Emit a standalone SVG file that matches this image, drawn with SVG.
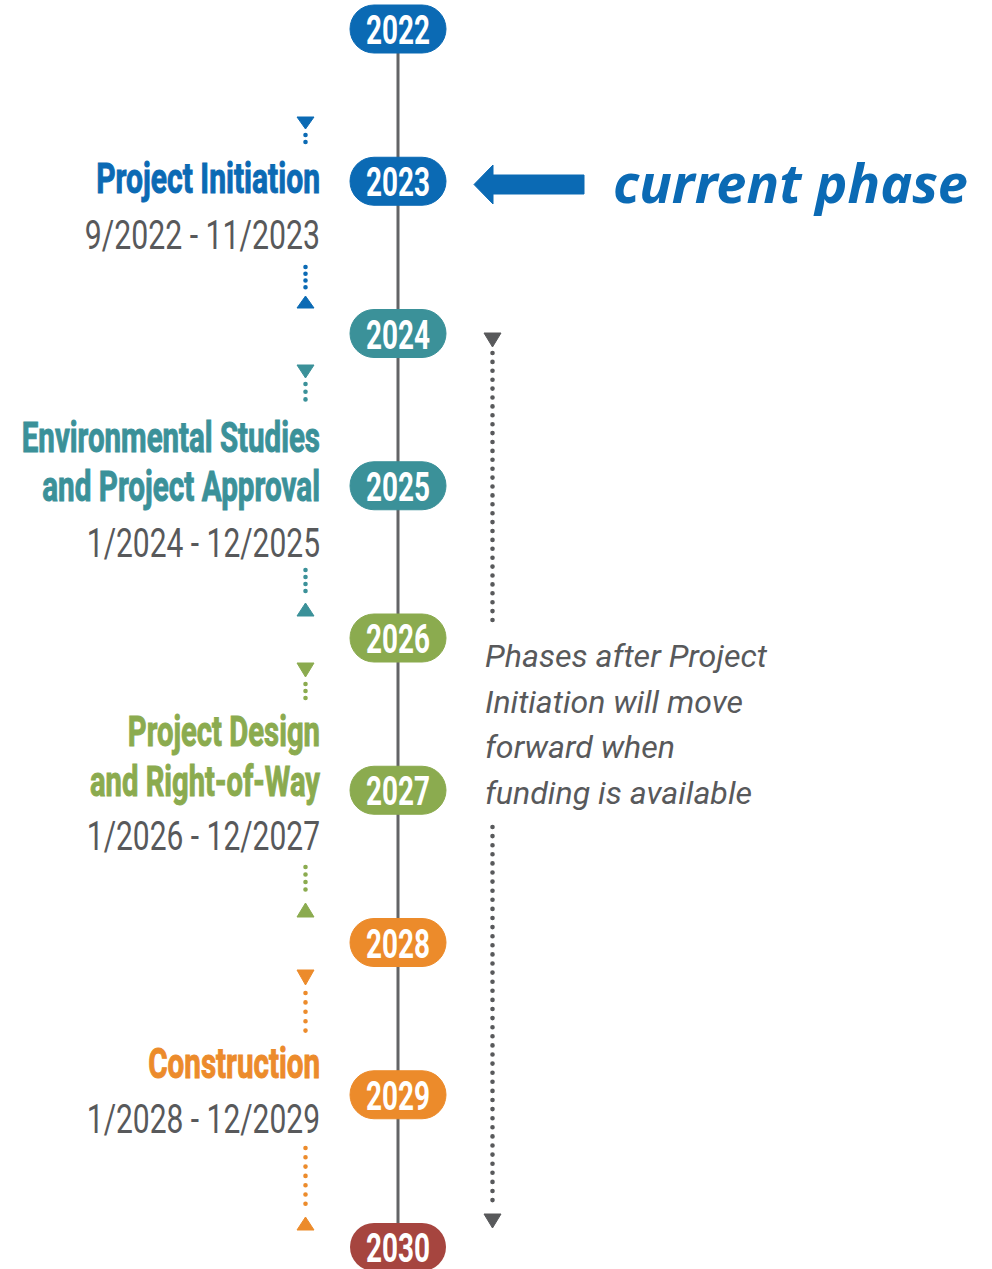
<svg xmlns="http://www.w3.org/2000/svg" width="992" height="1269" viewBox="0 0 992 1269">
<style>
.yr{font-family:Roboto,"Liberation Sans",sans-serif;font-weight:bold;font-size:40px;fill:#fff;text-anchor:middle}
.ttl{font-family:Roboto,"Liberation Sans",sans-serif;font-weight:bold;font-size:42px;text-anchor:end}
.dt{font-family:Roboto,"Liberation Sans",sans-serif;font-weight:normal;font-size:41px;fill:#58595b;text-anchor:end}
.note{font-family:Roboto,"Liberation Sans",sans-serif;font-style:italic;font-size:31px;fill:#58595b}
.dots{fill:none;stroke-width:4.6;stroke-linecap:round}
.blue{fill:#0b6ab4;stroke:#0b6ab4}
.teal{fill:#3b9199;stroke:#3b9199}
.green{fill:#8bab4f;stroke:#8bab4f}
.orange{fill:#ec8b2b;stroke:#ec8b2b}
.red{fill:#a6453f}
.gray{fill:#58595b;stroke:#58595b}
</style>
<rect width="992" height="1269" fill="#fff"/>
<g id="connectors">
<line x1="398" y1="50" x2="398" y2="1225" stroke="#636466" stroke-width="3"/>
<g id="phase-arrows">
<polygon class="blue" stroke="none" points="297,117 314,117 305.5,129"/>
<line class="dots blue" fill="none" x1="305.5" y1="135" x2="305.5" y2="149" stroke-dasharray="0 7"/>
<line class="dots blue" fill="none" x1="305.5" y1="267" x2="305.5" y2="294" stroke-dasharray="0 6.75"/>
<polygon class="blue" stroke="none" points="297,308 314,308 305.5,296"/>
<polygon class="teal" stroke="none" points="297,365 314,365 305.5,378"/>
<line class="dots teal" fill="none" x1="305.5" y1="384" x2="305.5" y2="407" stroke-dasharray="0 7.7"/>
<line class="dots teal" fill="none" x1="305.5" y1="570" x2="305.5" y2="598" stroke-dasharray="0 7"/>
<polygon class="teal" stroke="none" points="297,616 314,616 305.5,603"/>
<polygon class="green" stroke="none" points="297,663 314,663 305.5,677"/>
<line class="dots green" fill="none" x1="305.5" y1="684" x2="305.5" y2="705" stroke-dasharray="0 7"/>
<line class="dots green" fill="none" x1="305.5" y1="867" x2="305.5" y2="897" stroke-dasharray="0 7.5"/>
<polygon class="green" stroke="none" points="297,917 314,917 305.5,903"/>
<polygon class="orange" stroke="none" points="297,970 314,970 305.5,985"/>
<line class="dots orange" fill="none" x1="305.5" y1="993" x2="305.5" y2="1040" stroke-dasharray="0 9.4"/>
<line class="dots orange" fill="none" x1="305.5" y1="1148" x2="305.5" y2="1213" stroke-dasharray="0 9.3"/>
<polygon class="orange" stroke="none" points="297,1230 314,1230 305.5,1217"/>
</g>
<g id="funding-arrow">
<polygon class="gray" stroke="none" points="484,333 501,333 492.5,347"/>
<line class="dots gray" fill="none" x1="492.5" y1="353" x2="492.5" y2="620" stroke-dasharray="0 8.9" stroke-width="4.2"/>
<line class="dots gray" fill="none" x1="492.5" y1="827" x2="492.5" y2="1209" stroke-dasharray="0 9.1" stroke-width="4.2"/>
<polygon class="gray" stroke="none" points="484,1214 501,1214 492.5,1228"/>
</g>
<polygon id="current-arrow" class="blue" stroke="none" points="474,184.5 493,165 493,175 584,175 584,194 493,194 493,204"/>
</g>
<g id="y2022"><rect class="blue" stroke="none" x="350" y="5" width="96" height="48" rx="24"/><text class="yr" x="398" y="44" textLength="64" lengthAdjust="spacingAndGlyphs">2022</text></g>
<g id="y2023"><rect class="blue" stroke="none" x="350" y="157.25" width="96" height="48" rx="24"/><text class="yr" x="398" y="196.25" textLength="64" lengthAdjust="spacingAndGlyphs">2023</text></g>
<g id="y2024"><rect class="teal" stroke="none" x="350" y="309.5" width="96" height="48" rx="24"/><text class="yr" x="398" y="348.5" textLength="64" lengthAdjust="spacingAndGlyphs">2024</text></g>
<g id="y2025"><rect class="teal" stroke="none" x="350" y="461.75" width="96" height="48" rx="24"/><text class="yr" x="398" y="500.75" textLength="64" lengthAdjust="spacingAndGlyphs">2025</text></g>
<g id="y2026"><rect class="green" stroke="none" x="350" y="614" width="96" height="48" rx="24"/><text class="yr" x="398" y="653" textLength="64" lengthAdjust="spacingAndGlyphs">2026</text></g>
<g id="y2027"><rect class="green" stroke="none" x="350" y="766.25" width="96" height="48" rx="24"/><text class="yr" x="398" y="805.25" textLength="64" lengthAdjust="spacingAndGlyphs">2027</text></g>
<g id="y2028"><rect class="orange" stroke="none" x="350" y="918.5" width="96" height="48" rx="24"/><text class="yr" x="398" y="957.5" textLength="64" lengthAdjust="spacingAndGlyphs">2028</text></g>
<g id="y2029"><rect class="orange" stroke="none" x="350" y="1070.75" width="96" height="48" rx="24"/><text class="yr" x="398" y="1109.75" textLength="64" lengthAdjust="spacingAndGlyphs">2029</text></g>
<g id="y2030"><rect class="red" x="350" y="1223" width="96" height="48" rx="24"/><text class="yr" x="398" y="1262" textLength="64" lengthAdjust="spacingAndGlyphs">2030</text></g>
<g id="phase-initiation">
<text class="ttl blue" stroke="none" transform="translate(320 193) scale(0.62 1)" textLength="361" lengthAdjust="spacingAndGlyphs">Project Initiation</text>
<text class="dt" transform="translate(320 249) scale(0.69 1)" textLength="341" lengthAdjust="spacingAndGlyphs">9/2022 - 11/2023</text>
</g>
<g id="phase-environmental">
<text class="ttl teal" stroke="none" transform="translate(320 452) scale(0.62 1)" textLength="481" lengthAdjust="spacingAndGlyphs">Environmental Studies</text>
<text class="ttl teal" stroke="none" transform="translate(320 501) scale(0.62 1)" textLength="448" lengthAdjust="spacingAndGlyphs">and Project Approval</text>
<text class="dt" transform="translate(320 557) scale(0.69 1)" textLength="338" lengthAdjust="spacingAndGlyphs">1/2024 - 12/2025</text>
</g>
<g id="phase-design">
<text class="ttl green" stroke="none" transform="translate(320 746) scale(0.62 1)" textLength="310" lengthAdjust="spacingAndGlyphs">Project Design</text>
<text class="ttl green" stroke="none" transform="translate(320 796) scale(0.62 1)" textLength="371" lengthAdjust="spacingAndGlyphs">and Right-of-Way</text>
<text class="dt" transform="translate(320 850) scale(0.69 1)" textLength="338" lengthAdjust="spacingAndGlyphs">1/2026 - 12/2027</text>
</g>
<g id="phase-construction">
<text class="ttl orange" stroke="none" transform="translate(320 1078) scale(0.62 1)" textLength="277" lengthAdjust="spacingAndGlyphs">Construction</text>
<text class="dt" transform="translate(320 1133) scale(0.69 1)" textLength="338" lengthAdjust="spacingAndGlyphs">1/2028 - 12/2029</text>
</g>
<g id="funding-note">
<text class="note" x="485" y="667" textLength="282" lengthAdjust="spacingAndGlyphs">Phases after Project</text>
<text class="note" x="485" y="713" textLength="258" lengthAdjust="spacingAndGlyphs">Initiation will move</text>
<text class="note" x="485" y="758" textLength="190" lengthAdjust="spacingAndGlyphs">forward when</text>
<text class="note" x="485" y="804" textLength="267" lengthAdjust="spacingAndGlyphs">funding is available</text>
</g>
<g id="current-phase">
<text x="613" y="203" fill="#0b6ab4" font-family="'Noto Sans','Open Sans',sans-serif" font-weight="bold" font-style="italic" font-size="54" textLength="355" lengthAdjust="spacingAndGlyphs">current phase</text>
</g>
</svg>
